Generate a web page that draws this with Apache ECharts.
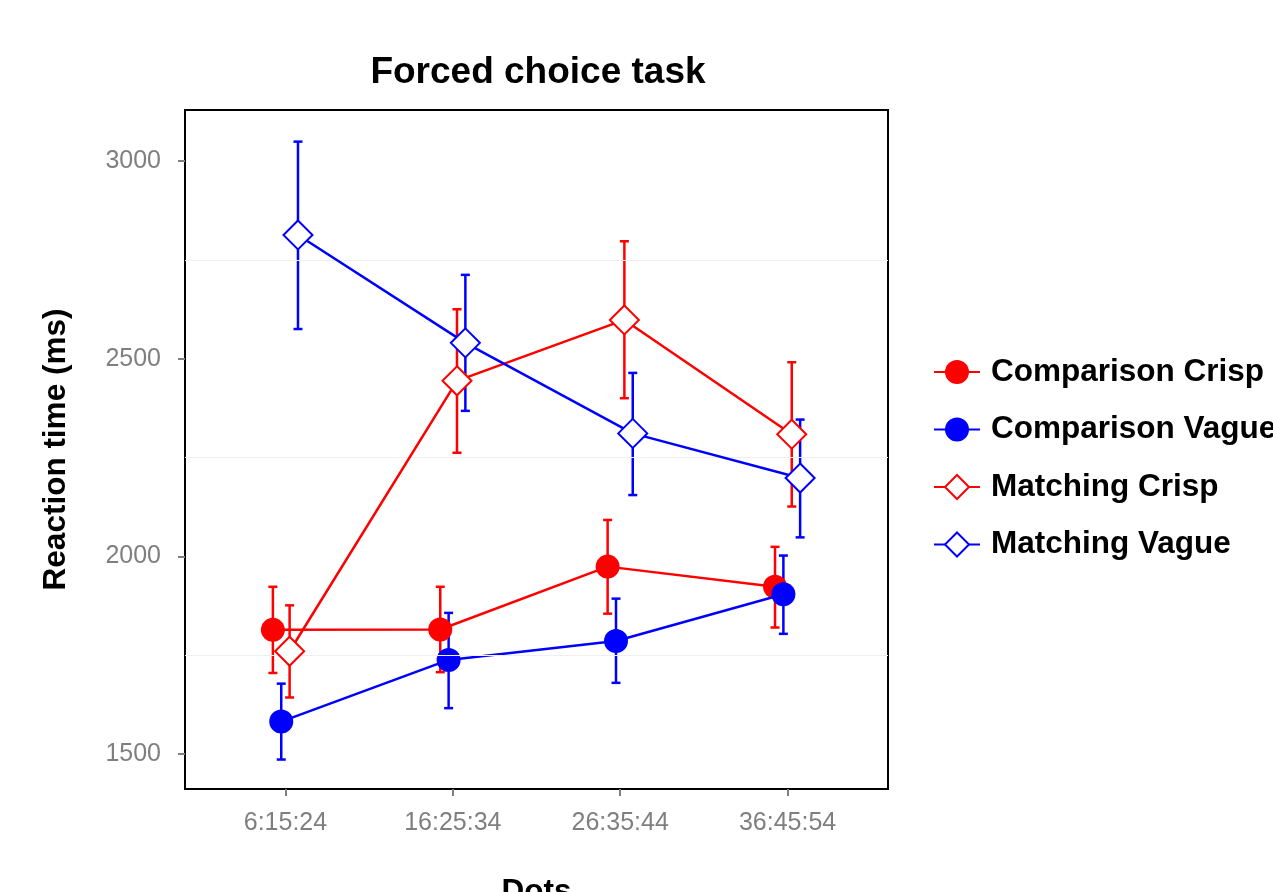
<!DOCTYPE html>
<html>
<head>
<meta charset="utf-8">
<script src="https://cdn.jsdelivr.net/npm/echarts@6/dist/echarts.min.js"></script>
<style>html,body{margin:0;padding:0;background:#fff}#c{width:1273px;height:892px}</style>
</head>
<body>
<div id="c"></div>
<script>
// ---- data ----
const categories = ['6:15:24', '16:25:34', '26:35:44', '36:45:54'];
const seriesNames = ['Comparison Crisp', 'Comparison Vague', 'Matching Crisp', 'Matching Vague'];
const compCrispMean = [1814, 1815, 1974, 1923];
const compCrispLow  = [1705, 1707, 1855, 1820];
const compCrispHigh = [1923, 1923, 2092, 2024];
const compVagueMean = [1582, 1738, 1786, 1904];
const compVagueLow  = [1486, 1616, 1680, 1804];
const compVagueHigh = [1678, 1857, 1893, 2002];
const matchCrispMean = [1760, 2444, 2598, 2309];
const matchCrispLow  = [1643, 2262, 2400, 2126];
const matchCrispHigh = [1876, 2625, 2797, 2491];
const matchVagueMean = [2813, 2540, 2311, 2198];
const matchVagueLow  = [2575, 2368, 2155, 2048];
const matchVagueHigh = [3049, 2712, 2464, 2346];
const yTicks = [1500, 2000, 2500, 3000];
const yMinorGrid = [1750, 2250, 2750];

// ---- config (positions/styles) ----
const dodge = [-0.075, -0.025, 0.025, 0.075];
const colors = ['#ff0000', '#0000ff', '#ff0000', '#0000ff'];
const filled = [true, true, false, false];
const means = [compCrispMean, compVagueMean, matchCrispMean, matchVagueMean];
const lows = [compCrispLow, compVagueLow, matchCrispLow, matchVagueLow];
const highs = [compCrispHigh, compVagueHigh, matchCrispHigh, matchVagueHigh];
const FONT = '"Liberation Sans", Helvetica, Arial, sans-serif';

const series = [];
// minor gridlines
series.push({
  type: 'line', data: [], silent: true, z: 0,
  markLine: {
    silent: true, symbol: 'none', label: {show: false},
    lineStyle: {color: '#efefef', width: 1.2, type: 'solid'},
    data: yMinorGrid.map(v => ({yAxis: v}))
  }
});
// error bars
for (let s = 0; s < 4; s++) {
  series.push({
    type: 'custom', z: 2, silent: true,
    data: categories.map((c, i) => [i + 1 + dodge[s], lows[s][i], highs[s][i]]),
    renderItem: function (params, api) {
      const x = api.value(0);
      const lo = api.coord([x, api.value(1)]);
      const hi = api.coord([x, api.value(2)]);
      const hw = 4.5;
      const st = {stroke: colors[s], lineWidth: 2.5, fill: null};
      return {type: 'group', children: [
        {type: 'line', shape: {x1: lo[0], y1: lo[1], x2: hi[0], y2: hi[1]}, style: st},
        {type: 'line', shape: {x1: lo[0] - hw, y1: lo[1], x2: lo[0] + hw, y2: lo[1]}, style: st},
        {type: 'line', shape: {x1: hi[0] - hw, y1: hi[1], x2: hi[0] + hw, y2: hi[1]}, style: st}
      ]};
    }
  });
}
// lines + points
for (let s = 0; s < 4; s++) {
  series.push({
    name: seriesNames[s], type: 'line', z: 3 + s,
    data: categories.map((c, i) => [i + 1 + dodge[s], means[s][i]]),
    symbol: filled[s] ? 'circle' : 'diamond',
    symbolSize: filled[s] ? 24 : 29,
    showAllSymbol: true,
    lineStyle: {color: colors[s], width: 2.5},
    itemStyle: filled[s] ? {color: colors[s]} : {color: '#ffffff', borderColor: colors[s], borderWidth: 2},
    emphasis: {disabled: true},
    animation: false
  });
}

const chart = echarts.init(document.getElementById('c'), null, {renderer: 'canvas'});
chart.setOption({
  animation: false,
  backgroundColor: '#ffffff',
  title: {
    text: 'Forced choice task', left: 533, top: 49, textAlign: 'center',
    textStyle: {fontFamily: FONT, fontSize: 37, fontWeight: 'bold', color: '#000'}
  },
  legend: {
    orient: 'vertical', left: 928, top: 351,
    itemWidth: 46, itemHeight: 30, itemGap: 25.5,
    data: seriesNames,
    textStyle: {fontFamily: FONT, fontSize: 31.5, fontWeight: 'bold', color: '#000', padding: [0, 0, 0, 6]}
  },
  grid: {left: 185, right: 385, top: 110, bottom: 103, outerBoundsMode: 'none', containLabel: false,
    show: true, borderColor: '#000', borderWidth: 2, backgroundColor: 'transparent'},
  xAxis: {
    type: 'value', min: 0.4, max: 4.6,
    name: 'Dots', nameLocation: 'middle', nameGap: 87,
    nameTextStyle: {fontFamily: FONT, fontSize: 31.5, fontWeight: 'bold', color: '#000', verticalAlign: 'top'},
    axisLine: {show: false},
    axisTick: {show: true, customValues: [1, 2, 3, 4], length: 7, lineStyle: {color: '#7f7f7f', width: 2}},
    axisLabel: {customValues: [1, 2, 3, 4], formatter: v => categories[Math.round(v) - 1] || '', margin: 22,
      fontFamily: FONT, fontSize: 25, color: '#7f7f7f'},
    splitLine: {show: false}
  },
  yAxis: {
    type: 'value', min: 1411.5, max: 3129,
    name: 'Reaction time (ms)', nameLocation: 'middle', nameGap: 113,
    nameTextStyle: {fontFamily: FONT, fontSize: 31.5, fontWeight: 'bold', color: '#000'},
    axisLine: {show: false},
    axisTick: {show: true, customValues: yTicks, length: 7, lineStyle: {color: '#7f7f7f', width: 2}},
    axisLabel: {customValues: yTicks, formatter: v => String(v), margin: 24, fontFamily: FONT, fontSize: 25, color: '#7f7f7f'},
    splitLine: {show: false}
  },
  series: series
});
</script>
</body>
</html>
